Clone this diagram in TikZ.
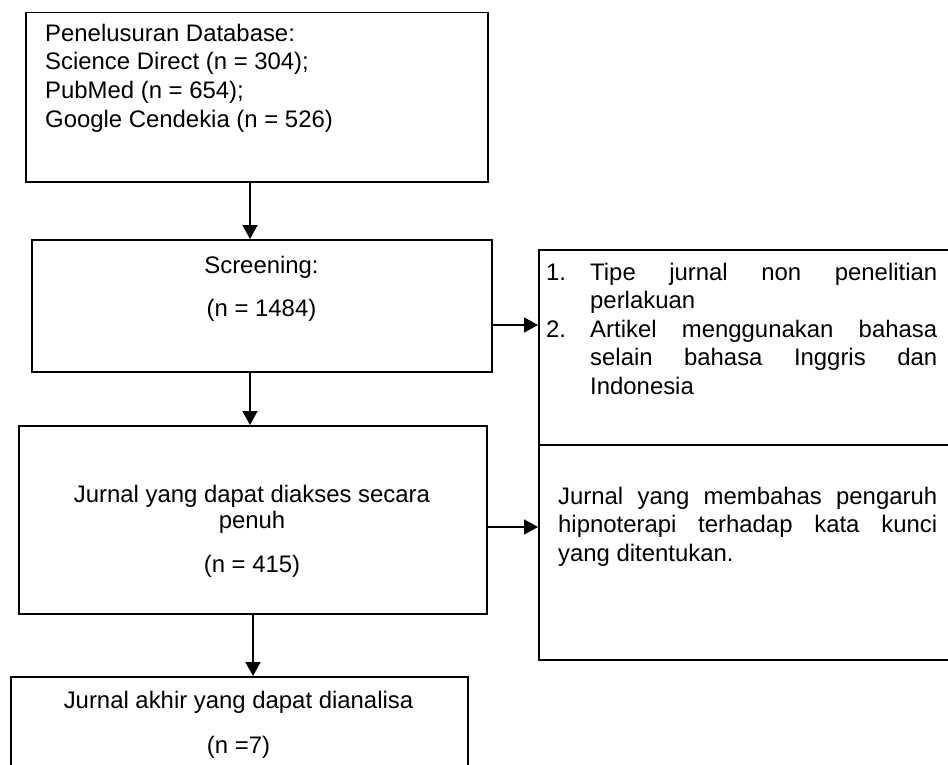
\documentclass[tikz,border=0pt]{standalone}
\usepackage{fontspec}
\setmainfont{Liberation Sans}
\usetikzlibrary{arrows.meta}
\begin{document}
\begin{tikzpicture}[x=1pt,y=-1pt,
  box/.style={draw, line width=1.5pt, rectangle, inner sep=0pt, anchor=north west},
  arr/.style={line width=1.5pt, -{Triangle[length=14pt,width=15pt]}},
  txt/.style={inner sep=0pt, font=\fontsize{23.9pt}{28.7pt}\selectfont},
]
\useasboundingbox (0,0) rectangle (948,765);

% boxes
\node[box, minimum width=462pt, minimum height=169pt] (b1) at (25,12) {};
\node[box, minimum width=460pt, minimum height=132pt] (b2) at (31,239) {};
\node[box, minimum width=468pt, minimum height=188pt] (b3) at (18,425) {};
\node[box, minimum width=457pt, minimum height=99pt] (b4) at (10,676) {};
\node[box, minimum width=417pt, minimum height=195pt] (rt) at (538,249) {};
\node[box, minimum width=417pt, minimum height=215pt] (rb) at (538,444) {};

% helper coordinates
\coordinate (ax) at (250,0);
\coordinate (ax2) at (253,0);
\coordinate (ay1) at (0,325);
\coordinate (ay2) at (0,527);

% connectors
\draw[arr] (b1.south -| ax) -- (b2.north -| ax);
\draw[arr] (b2.south -| ax) -- (b3.north -| ax);
\draw[arr] (b3.south -| ax2) -- (b4.north -| ax2);
\draw[arr] (b2.east |- ay1) -- (rt.west |- ay1);
\draw[arr] (b3.east |- ay2) -- (rb.west |- ay2);

% box 1 text
\node[txt, anchor=base west] (t1a) at (45,42) {Penelusuran Database:};
\node[txt, anchor=base west] (t1b) at (45,70) {Science Direct (n = 304);};
\node[txt, anchor=base west] (t1c) at (45,99) {PubMed (n = 654);};
\node[txt, anchor=base west] (t1d) at (45,128) {Google Cendekia (n = 526)};

% box 2 text
\node[txt, anchor=base] (t2a) at (261.5,273) {Screening:};
\node[txt, anchor=base] (t2b) at (261.5,316) {(n = 1484)};

% box 3 text
\node[txt, anchor=base] (t3a) at (252,502) {Jurnal yang dapat diakses secara};
\node[txt, anchor=base] (t3b) at (252,528) {penuh};
\node[txt, anchor=base] (t3c) at (252,572) {(n = 415)};

% box 4 text
\node[txt, anchor=base] (t4a) at (238.5,708) {Jurnal akhir yang dapat dianalisa};
\node[txt, anchor=base] (t4b) at (238.5,753) {(n =7)};

% right top text
\node[txt, anchor=base west] (n1) at (546,280) {1.};
\node[txt, anchor=base west] (r1) at (590,280) {\makebox[347pt][s]{Tipe jurnal non penelitian}};
\node[txt, anchor=base west] (r2) at (590,308.5) {perlakuan};
\node[txt, anchor=base west] (n2) at (546,337) {2.};
\node[txt, anchor=base west] (r3) at (590,337) {\makebox[347pt][s]{Artikel menggunakan bahasa}};
\node[txt, anchor=base west] (r4) at (590,365.5) {\makebox[347pt][s]{selain bahasa Inggris dan}};
\node[txt, anchor=base west] (r5) at (590,394) {Indonesia};

% right bottom text
\node[txt, anchor=base west] (s1) at (558,504) {\makebox[379pt][s]{Jurnal yang membahas pengaruh}};
\node[txt, anchor=base west] (s2) at (558,532.5) {\makebox[379pt][s]{hipnoterapi terhadap kata kunci}};
\node[txt, anchor=base west] (s3) at (558,561) {yang ditentukan.};
\end{tikzpicture}
\end{document}
